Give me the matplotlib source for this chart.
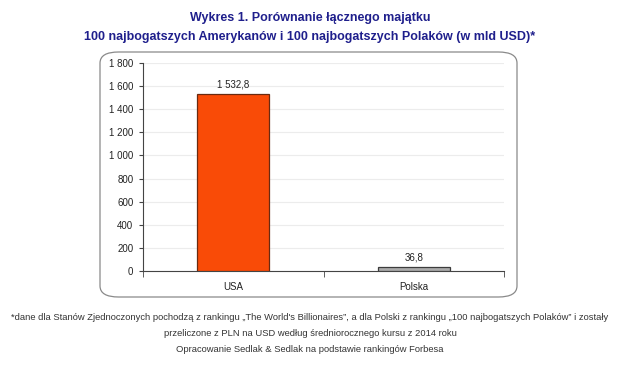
import matplotlib.pyplot as plt
from matplotlib.patches import FancyBboxPatch
from matplotlib.ticker import FuncFormatter
import numpy as np

# dane
kraje = ['USA', 'Polska']
majatek = [1532.8, 36.8]
etykiety = ['1 532,8', '36,8']
kolory = ['#f94b07', '#ababab']
krawedzie = ['#6a2a10', '#3c3c3c']

plt.rcParams['font.family'] = ['Liberation Sans', 'DejaVu Sans']

fig = plt.figure(figsize=(6.2, 3.7), dpi=100)
fig.patch.set_facecolor('white')

# ramka z zaokraglonymi rogami wokol wykresu
ramka = FancyBboxPatch((100 / 620, 1 - 297 / 370), 417 / 620, 245 / 370,
                       boxstyle='round,pad=0,rounding_size=0.03',
                       transform=fig.transFigure, facecolor='white',
                       edgecolor='#8a8a8a', linewidth=0.9, zorder=-5)
fig.patches.append(ramka)

ax = fig.add_axes([143 / 620, 1 - 271 / 370, 361 / 620, 208 / 370])
ax.set_facecolor('none')
ax.set_zorder(2)

x = np.arange(len(kraje))
ax.bar(x, majatek, width=0.4, color=kolory, edgecolor=krawedzie, linewidth=0.9, zorder=3)

for i in range(len(kraje)):
    ax.text(x[i], majatek[i] + 38, etykiety[i], ha='center', va='bottom',
            fontsize=7, color='#222222')

ax.set_xlim(-0.5, 1.5)
ax.set_ylim(0, 1800)
ax.set_yticks(np.arange(0, 1801, 200))
ax.yaxis.set_major_formatter(FuncFormatter(lambda v, p: '{:,.0f}'.format(v).replace(',', ' ')))
ax.set_xticks(x)
ax.set_xticklabels(kraje)
ax.set_xticks([-0.5, 0.5, 1.5], minor=True)
ax.tick_params(axis='x', which='major', length=0, pad=8, labelsize=7, labelcolor='#222222')
ax.tick_params(axis='x', which='minor', length=4, color='#444444')
ax.tick_params(axis='y', length=3, pad=4, labelsize=7, labelcolor='#222222', color='#444444')

ax.grid(axis='y', color='#ececec', linewidth=0.8, zorder=0)
for s in ['top', 'right']:
    ax.spines[s].set_visible(False)
ax.spines['left'].set_color('#444444')
ax.spines['bottom'].set_color('#444444')

# tytul
fig.text(0.5, 1 - 18 / 370, 'Wykres 1. Porównanie łącznego majątku', ha='center', va='center',
         fontsize=9, fontweight='bold', color='#1f1f8c')
fig.text(0.5, 1 - 37 / 370, '100 najbogatszych Amerykanów i 100 najbogatszych Polaków (w mld USD)*',
         ha='center', va='center', fontsize=9, fontweight='bold', color='#1f1f8c')

# przypisy
fig.text(0.5, 1 - 317 / 370,
         '*dane dla Stanów Zjednoczonych pochodzą z rankingu „The World\'s Billionaires”, a dla Polski '
         'z rankingu „100 najbogatszych Polaków” i zostały',
         ha='center', va='center', fontsize=6.75, color='#333333')
fig.text(0.5, 1 - 333 / 370, 'przeliczone z PLN na USD według średniorocznego kursu z 2014 roku',
         ha='center', va='center', fontsize=6.75, color='#333333')
fig.text(0.5, 1 - 350 / 370, 'Opracowanie Sedlak & Sedlak na podstawie rankingów Forbesa',
         ha='center', va='center', fontsize=6.75, color='#333333')

fig.savefig('out.png', dpi=100)
